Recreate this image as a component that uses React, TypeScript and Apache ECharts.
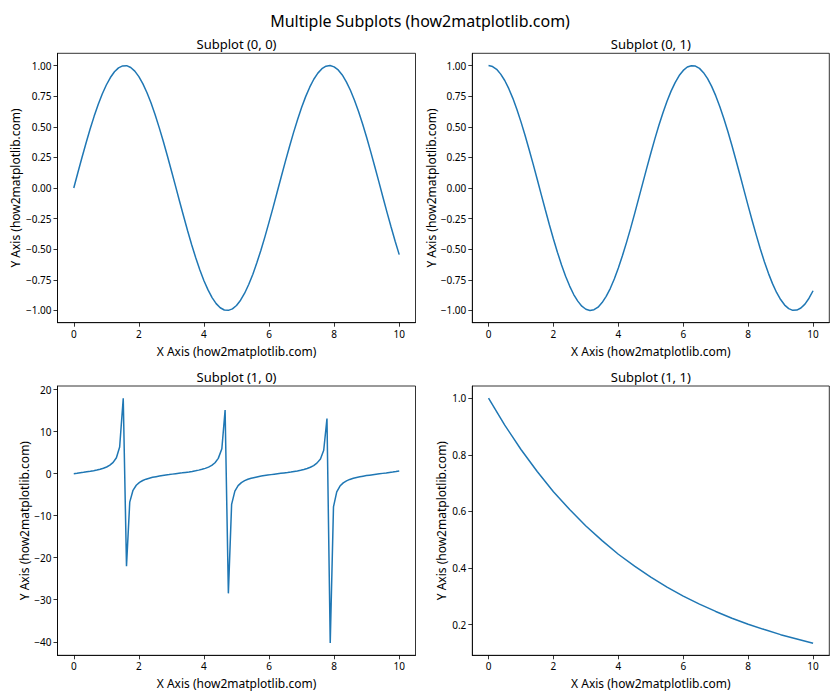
import React, { useEffect, useRef } from "react";
import * as echarts from "echarts";

// ---- data ----
const xWave = [0, 0.125, 0.25, 0.375, 0.5, 0.625, 0.75, 0.875, 1, 1.125, 1.25, 1.375, 1.5, 1.625, 1.75, 1.875, 2, 2.125, 2.25, 2.375, 2.5, 2.625, 2.75, 2.875, 3, 3.125, 3.25, 3.375, 3.5, 3.625, 3.75, 3.875, 4, 4.125, 4.25, 4.375, 4.5, 4.625, 4.75, 4.875, 5, 5.125, 5.25, 5.375, 5.5, 5.625, 5.75, 5.875, 6, 6.125, 6.25, 6.375, 6.5, 6.625, 6.75, 6.875, 7, 7.125, 7.25, 7.375, 7.5, 7.625, 7.75, 7.875, 8, 8.125, 8.25, 8.375, 8.5, 8.625, 8.75, 8.875, 9, 9.125, 9.25, 9.375, 9.5, 9.625, 9.75, 9.875, 10];
const sinValues = [0, 0.125, 0.247, 0.366, 0.479, 0.585, 0.682, 0.768, 0.841, 0.902, 0.949, 0.981, 0.997, 0.999, 0.984, 0.954, 0.909, 0.85, 0.778, 0.694, 0.598, 0.493, 0.382, 0.263, 0.141, 0.017, -0.108, -0.231, -0.351, -0.465, -0.572, -0.67, -0.757, -0.832, -0.895, -0.944, -0.978, -0.996, -0.999, -0.987, -0.959, -0.916, -0.859, -0.788, -0.706, -0.611, -0.508, -0.397, -0.279, -0.158, -0.033, 0.092, 0.215, 0.335, 0.45, 0.558, 0.657, 0.746, 0.823, 0.888, 0.938, 0.974, 0.995, 1.0, 0.989, 0.964, 0.923, 0.867, 0.798, 0.717, 0.625, 0.523, 0.412, 0.295, 0.174, 0.05, -0.075, -0.199, -0.319, -0.435, -0.544];
const cosValues = [1, 0.992, 0.969, 0.93, 0.878, 0.811, 0.732, 0.641, 0.54, 0.431, 0.315, 0.195, 0.071, -0.054, -0.178, -0.3, -0.416, -0.526, -0.628, -0.72, -0.801, -0.87, -0.924, -0.965, -0.99, -1.0, -0.994, -0.973, -0.936, -0.885, -0.821, -0.743, -0.654, -0.554, -0.446, -0.332, -0.211, -0.087, 0.038, 0.162, 0.284, 0.401, 0.512, 0.615, 0.709, 0.791, 0.861, 0.918, 0.96, 0.988, 0.999, 0.996, 0.977, 0.942, 0.893, 0.83, 0.754, 0.666, 0.568, 0.461, 0.347, 0.227, 0.104, -0.021, -0.146, -0.268, -0.385, -0.498, -0.602, -0.697, -0.781, -0.853, -0.911, -0.956, -0.985, -0.999, -0.997, -0.98, -0.948, -0.9, -0.839];

const xTan = [0, 0.1, 0.2, 0.3, 0.4, 0.51, 0.61, 0.71, 0.81, 0.91, 1.01, 1.11, 1.21, 1.31, 1.41, 1.52, 1.62, 1.72, 1.82, 1.92, 2.02, 2.12, 2.22, 2.32, 2.42, 2.53, 2.63, 2.73, 2.83, 2.93, 3.03, 3.13, 3.23, 3.33, 3.43, 3.54, 3.64, 3.74, 3.84, 3.94, 4.04, 4.14, 4.24, 4.34, 4.44, 4.55, 4.65, 4.75, 4.85, 4.95, 5.05, 5.15, 5.25, 5.35, 5.45, 5.56, 5.66, 5.76, 5.86, 5.96, 6.06, 6.16, 6.26, 6.36, 6.46, 6.57, 6.67, 6.77, 6.87, 6.97, 7.07, 7.17, 7.27, 7.37, 7.47, 7.58, 7.68, 7.78, 7.88, 7.98, 8.08, 8.18, 8.28, 8.38, 8.48, 8.59, 8.69, 8.79, 8.89, 8.99, 9.09, 9.19, 9.29, 9.39, 9.49, 9.6, 9.7, 9.8, 9.9, 10];
const tanValues = [0, 0.1, 0.21, 0.31, 0.43, 0.55, 0.69, 0.85, 1.05, 1.28, 1.59, 2.02, 2.67, 3.79, 6.33, 17.95, -22.03, -6.78, -3.96, -2.75, -2.07, -1.63, -1.31, -1.07, -0.87, -0.71, -0.57, -0.44, -0.32, -0.22, -0.11, -0.01, 0.09, 0.19, 0.3, 0.42, 0.54, 0.68, 0.84, 1.03, 1.26, 1.56, 1.97, 2.59, 3.64, 5.94, 15.15, -28.48, -7.3, -4.14, -2.84, -2.13, -1.67, -1.34, -1.09, -0.89, -0.72, -0.58, -0.45, -0.34, -0.23, -0.12, -0.02, 0.08, 0.18, 0.29, 0.4, 0.53, 0.66, 0.82, 1.0, 1.23, 1.52, 1.92, 2.51, 3.5, 5.58, 13.1, -40.31, -7.91, -4.33, -2.94, -2.19, -1.71, -1.37, -1.11, -0.91, -0.74, -0.59, -0.46, -0.35, -0.24, -0.13, -0.03, 0.07, 0.17, 0.28, 0.39, 0.51, 0.65];

const xExp = [0, 0.5, 1, 1.5, 2, 2.5, 3, 3.5, 4, 4.5, 5, 5.5, 6, 6.5, 7, 7.5, 8, 8.5, 9, 9.5, 10];
const expValues = [1, 0.905, 0.819, 0.741, 0.67, 0.607, 0.549, 0.497, 0.449, 0.407, 0.368, 0.333, 0.301, 0.273, 0.247, 0.223, 0.202, 0.183, 0.165, 0.15, 0.135];

const xTicks = [0, 2, 4, 6, 8, 10];
const waveTicks = [-1, -0.75, -0.5, -0.25, 0, 0.25, 0.5, 0.75, 1];
const tanTicks = [-40, -30, -20, -10, 0, 10, 20];
const expTicks = [0.2, 0.4, 0.6, 0.8, 1.0];

const suptitle = "Multiple Subplots (how2matplotlib.com)";
const subTitles = ["Subplot (0, 0)", "Subplot (0, 1)", "Subplot (1, 0)", "Subplot (1, 1)"];
const xLabel = "X Axis (how2matplotlib.com)";
const yLabel = "Y Axis (how2matplotlib.com)";

const FONT = "'Noto Sans', 'DejaVu Sans', sans-serif";
const LINE = "#1f77b4";

const minus = (s: string) => s.replace("-", "\u2212");

export default function App() {
  const ref = useRef<HTMLDivElement>(null);
  useEffect(() => {
    if (!ref.current) return;
    const chart = echarts.init(ref.current, undefined, { renderer: "svg" });

    const grids = [
      { left: 57.5, top: 53.3, width: 358, height: 269.4 },
      { left: 472.3, top: 53.3, width: 357, height: 269.4 },
      { left: 57.5, top: 386, width: 358, height: 269.3 },
      { left: 472.3, top: 386, width: 357, height: 269.3 },
    ];

    const yCfg = [
      { min: -1.0998, max: 1.0998, ticks: waveTicks, fmt: (v: number) => minus(v.toFixed(2)) },
      { min: -1.1, max: 1.1, ticks: waveTicks, fmt: (v: number) => minus(v.toFixed(2)) },
      { min: -43.22, max: 20.86, ticks: tanTicks, fmt: (v: number) => minus(v.toFixed(0)) },
      { min: 0.0921, max: 1.0432, ticks: expTicks, fmt: (v: number) => v.toFixed(1) },
    ];

    const seriesData = [
      xWave.map((x, i) => [x, sinValues[i]]),
      xWave.map((x, i) => [x, cosValues[i]]),
      xTan.map((x, i) => [x, tanValues[i]]),
      xExp.map((x, i) => [x, expValues[i]]),
    ];

    const axisLabelStyle = { color: "#000", fontFamily: FONT, fontSize: 10 };
    const tickStyle = { show: true, inside: false, length: 4, lineStyle: { color: "#000", width: 0.8 } };
    const axisLineStyle = { show: true, onZero: false, lineStyle: { color: "#000", width: 0.8 } };

    const ylabelX = [15.5, 431, 24.5, 441];

    const graphics: any[] = [
      {
        type: "text",
        x: 420,
        y: 21,
        style: { text: suptitle, fontFamily: FONT, fontSize: 16, fill: "#000", align: "center", verticalAlign: "middle" },
      },
    ];
    grids.forEach((g, i) => {
      const cx = g.left + g.width / 2;
      graphics.push({
        type: "text",
        x: cx,
        y: g.top - 9.5,
        style: { text: subTitles[i], fontFamily: FONT, fontSize: 13, fill: "#000", align: "center", verticalAlign: "middle" },
      });
      graphics.push({
        type: "text",
        x: cx,
        y: g.top + g.height + 28.5,
        style: { text: xLabel, fontFamily: FONT, fontSize: 12, fill: "#000", align: "center", verticalAlign: "middle" },
      });
      graphics.push({
        type: "text",
        x: ylabelX[i],
        y: g.top + g.height / 2,
        rotation: Math.PI / 2,
        style: { text: yLabel, fontFamily: FONT, fontSize: 12, fill: "#000", align: "center", verticalAlign: "middle" },
      });
    });

    chart.setOption({
      animation: false,
      backgroundColor: "#fff",
      grid: grids.map((g) => ({ ...g, show: true, borderColor: "#000", borderWidth: 0.8, backgroundColor: "transparent", containLabel: false })),
      xAxis: grids.map((_, i) => ({
        type: "value",
        gridIndex: i,
        position: "bottom",
        min: -0.5,
        max: 10.5,
        axisLine: axisLineStyle,
        splitLine: { show: false },
        axisTick: { ...tickStyle, customValues: xTicks },
        axisLabel: { ...axisLabelStyle, margin: 6, customValues: xTicks, formatter: (v: number) => String(v) },
      })),
      yAxis: yCfg.map((c, i) => ({
        type: "value",
        gridIndex: i,
        position: "left",
        min: c.min,
        max: c.max,
        axisLine: axisLineStyle,
        splitLine: { show: false },
        axisTick: { ...tickStyle, customValues: c.ticks },
        axisLabel: { ...axisLabelStyle, margin: 6, customValues: c.ticks, formatter: c.fmt },
      })),
      series: seriesData.map((d, i) => ({
        type: "line",
        xAxisIndex: i,
        yAxisIndex: i,
        data: d,
        showSymbol: false,
        symbol: "none",
        smooth: false,
        lineStyle: { color: LINE, width: 1.5 },
        silent: true,
      })),
      graphic: graphics,
    });

    return () => chart.dispose();
  }, []);

  return <div ref={ref} style={{ position: "fixed", left: 0, top: 0, width: 840, height: 700 }} />;
}
